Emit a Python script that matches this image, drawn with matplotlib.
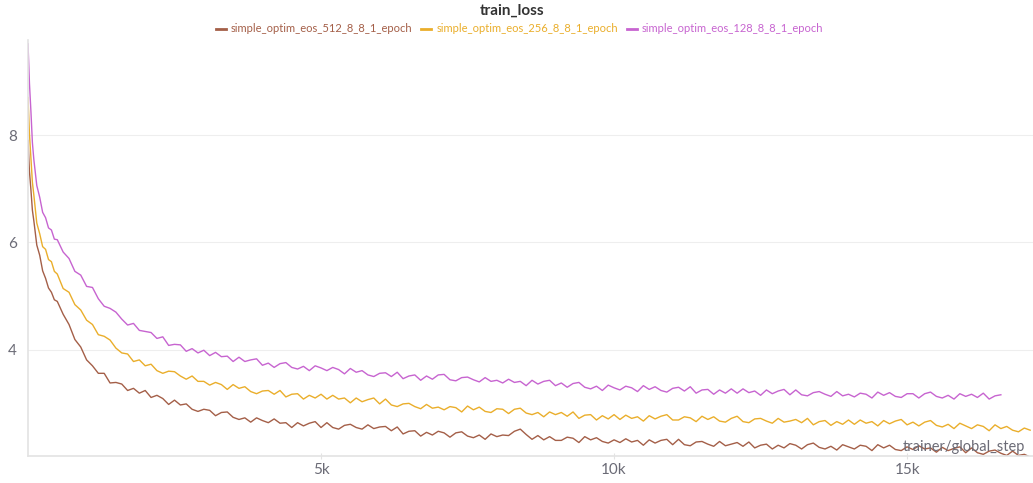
import numpy as np
import matplotlib
matplotlib.use('Agg')
import matplotlib.pyplot as plt

plt.rcParams['font.family'] = ['Lato', 'DejaVu Sans']

# x grid: dense at the start, then every 100 steps
steps_head = [0, 25, 50, 75, 100, 150, 200, 250, 300, 350, 400, 450, 500, 600, 700, 800, 900, 1000]
steps_512 = steps_head + list(range(1100, 17101, 100))
steps_256 = steps_head + list(range(1100, 17101, 100))
steps_128 = steps_head + list(range(1100, 16601, 100))

loss_512 = [
    7.90, 7.32, 6.98, 6.60, 6.40, 5.95, 5.76, 5.47, 5.33, 5.15, 5.07, 4.93, 4.90, 4.66, 4.47, 4.19, 4.05, 3.81,
    3.70, 3.56, 3.56, 3.38, 3.39, 3.36, 3.24, 3.28, 3.19, 3.24,
    3.11, 3.15, 3.09, 2.98, 3.06, 2.97, 2.99, 2.89, 2.85, 2.89,
    2.87, 2.77, 2.83, 2.84, 2.74, 2.70, 2.73, 2.65, 2.73, 2.68,
    2.64, 2.71, 2.63, 2.64, 2.55, 2.64, 2.58, 2.63, 2.66, 2.55,
    2.64, 2.55, 2.52, 2.59, 2.61, 2.55, 2.52, 2.60, 2.53, 2.56,
    2.57, 2.49, 2.56, 2.43, 2.48, 2.49, 2.39, 2.46, 2.41, 2.48,
    2.45, 2.37, 2.45, 2.47, 2.39, 2.36, 2.41, 2.33, 2.43, 2.38,
    2.41, 2.40, 2.48, 2.52, 2.42, 2.33, 2.40, 2.32, 2.38, 2.31,
    2.31, 2.37, 2.35, 2.27, 2.38, 2.32, 2.36, 2.29, 2.26, 2.32,
    2.27, 2.34, 2.28, 2.31, 2.22, 2.32, 2.26, 2.31, 2.33, 2.23,
    2.33, 2.23, 2.21, 2.28, 2.29, 2.24, 2.20, 2.29, 2.21, 2.24,
    2.27, 2.20, 2.28, 2.17, 2.22, 2.24, 2.15, 2.22, 2.17, 2.25,
    2.22, 2.15, 2.23, 2.26, 2.18, 2.15, 2.20, 2.13, 2.23, 2.19,
    2.15, 2.22, 2.20, 2.12, 2.23, 2.17, 2.22, 2.14, 2.12, 2.19,
    2.14, 2.21, 2.15, 2.17, 2.09, 2.18, 2.12, 2.16, 2.19, 2.08,
    2.17, 2.08, 2.05, 2.11, 2.13, 2.07, 2.03, 2.11, 2.03, 2.05, 2.00,
]

loss_256 = [
    8.70, 8.02, 7.58, 7.12, 6.88, 6.36, 6.16, 5.92, 5.87, 5.68, 5.64, 5.46, 5.41, 5.14, 5.07, 4.84, 4.74, 4.55,
    4.47, 4.28, 4.25, 4.18, 4.03, 3.94, 3.92, 3.78, 3.81, 3.70,
    3.73, 3.61, 3.56, 3.60, 3.59, 3.51, 3.45, 3.51, 3.41, 3.41,
    3.34, 3.39, 3.35, 3.26, 3.35, 3.28, 3.31, 3.22, 3.18, 3.23,
    3.24, 3.17, 3.24, 3.12, 3.17, 3.18, 3.08, 3.15, 3.10, 3.17,
    3.08, 3.15, 3.08, 3.10, 3.01, 3.10, 3.03, 3.07, 3.10, 2.99,
    3.08, 2.97, 2.94, 2.99, 3.00, 2.94, 2.90, 2.98, 2.91, 2.93,
    2.88, 2.94, 2.92, 2.84, 2.95, 2.88, 2.93, 2.85, 2.83, 2.90,
    2.89, 2.81, 2.89, 2.91, 2.82, 2.79, 2.83, 2.75, 2.84, 2.79,
    2.83, 2.76, 2.84, 2.72, 2.78, 2.79, 2.69, 2.77, 2.71, 2.79,
    2.70, 2.78, 2.72, 2.75, 2.67, 2.77, 2.71, 2.76, 2.79, 2.69,
    2.69, 2.75, 2.73, 2.66, 2.76, 2.70, 2.75, 2.67, 2.65, 2.72,
    2.76, 2.66, 2.64, 2.71, 2.72, 2.67, 2.63, 2.72, 2.65, 2.67,
    2.70, 2.64, 2.72, 2.60, 2.66, 2.68, 2.59, 2.66, 2.61, 2.69,
    2.61, 2.69, 2.63, 2.66, 2.58, 2.68, 2.62, 2.67, 2.70, 2.60,
    2.65, 2.58, 2.65, 2.68, 2.59, 2.56, 2.61, 2.53, 2.63, 2.58,
    2.53, 2.60, 2.57, 2.49, 2.60, 2.53, 2.57, 2.50, 2.47, 2.54, 2.50,
]

loss_128 = [
    9.70, 8.96, 8.44, 7.86, 7.54, 7.06, 6.84, 6.56, 6.46, 6.27, 6.23, 6.06, 6.05, 5.82, 5.70, 5.46, 5.39, 5.18,
    5.16, 4.95, 4.81, 4.77, 4.70, 4.57, 4.46, 4.49, 4.36, 4.34,
    4.32, 4.21, 4.24, 4.08, 4.10, 4.09, 3.97, 4.02, 3.94, 3.99,
    3.89, 3.95, 3.87, 3.88, 3.78, 3.86, 3.78, 3.81, 3.83, 3.71,
    3.75, 3.67, 3.74, 3.76, 3.67, 3.64, 3.69, 3.61, 3.70, 3.66,
    3.61, 3.67, 3.63, 3.55, 3.65, 3.58, 3.61, 3.53, 3.50, 3.56,
    3.57, 3.50, 3.58, 3.46, 3.51, 3.53, 3.43, 3.51, 3.45, 3.53,
    3.54, 3.44, 3.42, 3.48, 3.49, 3.44, 3.40, 3.48, 3.41, 3.43,
    3.38, 3.45, 3.39, 3.41, 3.33, 3.43, 3.36, 3.41, 3.43, 3.33,
    3.38, 3.30, 3.37, 3.39, 3.30, 3.27, 3.32, 3.24, 3.34, 3.29,
    3.25, 3.32, 3.29, 3.22, 3.33, 3.26, 3.31, 3.24, 3.21, 3.28,
    3.30, 3.23, 3.31, 3.19, 3.25, 3.26, 3.17, 3.25, 3.19, 3.27,
    3.19, 3.27, 3.20, 3.23, 3.15, 3.25, 3.18, 3.23, 3.26, 3.16,
    3.25, 3.16, 3.14, 3.20, 3.22, 3.17, 3.13, 3.22, 3.14, 3.17,
    3.12, 3.19, 3.17, 3.10, 3.21, 3.15, 3.20, 3.13, 3.11, 3.18,
    3.18, 3.10, 3.18, 3.21, 3.13, 3.10, 3.15, 3.08, 3.18, 3.13,
    3.17, 3.11, 3.19, 3.08, 3.14, 3.16,
]

names = ['simple_optim_eos_512_8_8_1_epoch',
         'simple_optim_eos_256_8_8_1_epoch',
         'simple_optim_eos_128_8_8_1_epoch']
colors = ['#a45f48', '#eaae2b', '#c764d0']

fig = plt.figure(figsize=(10.33, 4.83), dpi=100)
ax = fig.add_axes([0.0271, 0.056, 0.973, 0.861])

for s, l, n, c in zip([steps_512, steps_256, steps_128],
                      [loss_512, loss_256, loss_128], names, colors):
    ax.plot(s, l, color=c, lw=1.0, label=n)

ax.set_xlim(0, 17150)
ax.set_ylim(2.02, 9.77)
ax.set_xticks([5000, 10000, 15000])
ax.set_xticklabels(['5k', '10k', '15k'])
ax.set_yticks([4, 6, 8])
ax.set_yticklabels(['4', '6', '8'])
ax.grid(axis='y', color='#eeeeee', lw=0.8)
ax.set_axisbelow(True)
for side in ['top', 'right']:
    ax.spines[side].set_visible(False)
for side in ['left', 'bottom']:
    ax.spines[side].set_color('#e3e3e3')
    ax.spines[side].set_linewidth(1.2)
ax.tick_params(axis='x', colors='#e3e3e3', labelcolor='#6b6b76', length=4,
               direction='inout', labelsize=11, pad=3)
ax.tick_params(axis='y', colors='#e3e3e3', labelcolor='#6b6b76', length=0,
               labelsize=11, pad=8)

ax.text(0.992, 0.004, 'trainer/global_step', transform=ax.transAxes,
        ha='right', va='bottom', fontsize=10.5, color='#6b6b76')

fig.text(0.496, 0.977, 'train_loss', ha='center', va='center',
         fontsize=11, fontweight='bold', color='#333333')
leg = fig.legend(loc='center', bbox_to_anchor=(0.503, 0.94), ncol=3, frameon=False,
                 handlelength=0.9, handletextpad=0.45, columnspacing=0.8,
                 fontsize=8, labelcolor='linecolor')
for h in leg.legend_handles:
    h.set_linewidth(2.0)

fig.savefig('out.png', dpi=100)
